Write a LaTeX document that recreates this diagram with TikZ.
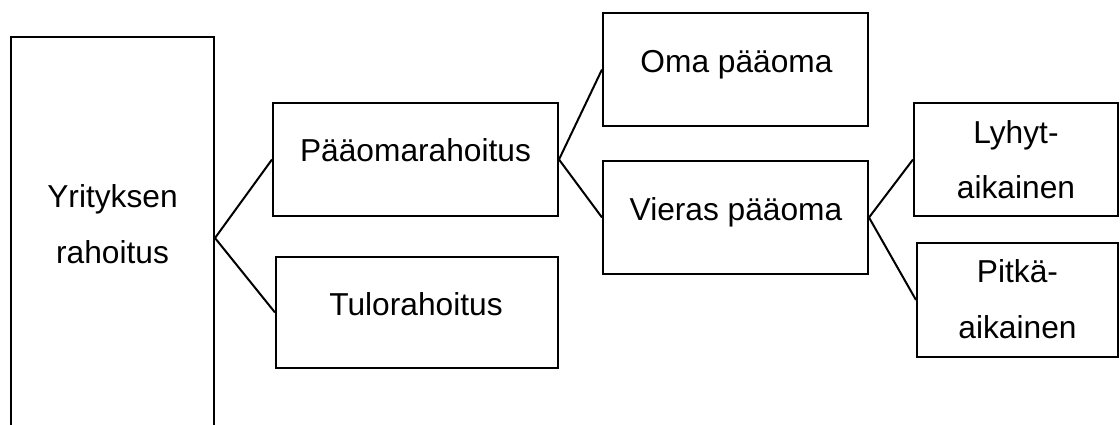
\documentclass[tikz,border=0pt]{standalone}
\usepackage{fontspec}
\setmainfont{Liberation Sans}
\begin{document}
\begin{tikzpicture}[x=1pt,y=-1pt,
  box/.style={draw=black, line width=2pt, rectangle, inner sep=0pt, fill=white},
  lbl/.style={anchor=base, inner sep=0pt, align=center, font=\fontsize{31.7}{55.5}\selectfont},
  conn/.style={draw=black, line width=2pt}]
\useasboundingbox (0,0) rectangle (1120,425);
% boxes
\node[box, minimum width=203pt, minimum height=402pt] (yr) at (112.5,238) {};
\node[box, minimum width=285pt, minimum height=113pt] (paa) at (415.5,159.5) {};
\node[box, minimum width=282pt, minimum height=111pt] (tulo) at (417,312.5) {};
\node[box, minimum width=265pt, minimum height=113pt] (oma) at (735.5,69.5) {};
\node[box, minimum width=265pt, minimum height=113pt] (vier) at (735.5,217.5) {};
\node[box, minimum width=204pt, minimum height=113pt] (lyh) at (1016,159.5) {};
\node[box, minimum width=201pt, minimum height=114pt] (pit) at (1017.5,300) {};
% labels (multi-line: base anchor is the last line)
\node[lbl] (tyr) at (112.5,263) {Yrityksen\\rahoitus};
\node[lbl] (tpaa) at (415.5,161.7) {Pääomarahoitus};
\node[lbl] (ttulo) at (416,315) {Tulorahoitus};
\node[lbl] (toma) at (736.5,72.7) {Oma pääoma};
\node[lbl] (tvier) at (736,220) {Vieras pääoma};
\node[lbl] (tlyh) at (1016,199) {Lyhyt-\\aikainen};
\node[lbl] (tpit) at (1017.5,338) {Pitkä-\\aikainen};
% connectors
\draw[conn] (yr.east) -- (paa.west);
\draw[conn] (yr.east) -- (tulo.west);
\draw[conn] (paa.east) -- (oma.west);
\draw[conn] (paa.east) -- (vier.west);
\draw[conn] (vier.east) -- (lyh.west);
\draw[conn] (vier.east) -- (pit.west);
\end{tikzpicture}
\end{document}
